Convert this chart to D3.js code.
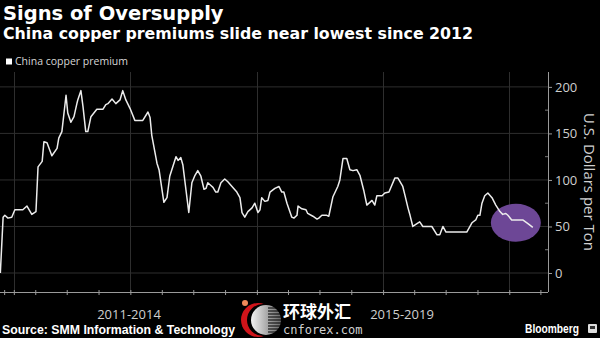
<!DOCTYPE html>
<html><head><meta charset="utf-8">
<script src="https://cdn.jsdelivr.net/npm/d3@7"></script>
<style>
html,body{margin:0;padding:0;background:#000;}
svg{display:block;}
</style></head>
<body>
<svg id="c" width="600" height="338"></svg>
<script>
// ---- data ----
const dates2015 = ['2014-12-21','2014-12-29','2015-01-03','2015-01-12','2015-01-23','2015-02-01','2015-02-24','2015-03-08','2015-03-22','2015-04-03','2015-04-09','2015-04-21','2015-04-26','2015-05-05','2015-05-19','2015-06-03','2015-06-08','2015-06-17','2015-06-29','2015-07-04','2015-07-13','2015-07-22','2015-07-31','2015-08-02','2015-08-11','2015-08-17','2015-08-25','2015-08-31','2015-09-09','2015-09-26','2015-10-14','2015-10-22','2015-10-28','2015-11-09','2015-11-20','2015-12-02','2015-12-10','2015-12-19','2015-12-31'];
const values2015 = [0,60,62,59,60,68,68,72,63,66,114,120,141,140,126,134,145,152,191,172,162,168,183,186,196,179,152,152,168,176,176,181,182,187,182,186,196,186,177];
const dates2016 = ['2016-01-14','2016-02-06','2016-02-21','2016-02-27','2016-03-03','2016-03-18','2016-03-24','2016-04-07','2016-04-16','2016-04-24','2016-05-12','2016-05-18','2016-05-26','2016-06-01','2016-06-18','2016-06-27','2016-07-06','2016-07-14','2016-07-23','2016-08-01','2016-08-07','2016-08-12','2016-08-21','2016-08-27','2016-09-04','2016-09-10','2016-09-19','2016-09-30','2016-10-09','2016-10-21','2016-11-04','2016-11-13','2016-11-19','2016-11-27','2016-12-06','2016-12-18','2016-12-26'];
const values2016 = [164,164,173,167,148,118,111,76,81,104,125,121,124,116,65,97,105,110,104,90,91,97,94,92,87,87,97,101,98,93,87,81,65,60,66,70,75];
const dates2017 = ['2017-01-04','2017-01-10','2017-01-15','2017-01-24','2017-02-02','2017-02-08','2017-02-22','2017-03-06','2017-03-14','2017-03-20','2017-03-29','2017-04-12','2017-04-18','2017-04-27','2017-04-30','2017-05-11','2017-05-23','2017-05-28','2017-06-12','2017-06-24','2017-06-29','2017-07-08','2017-07-22','2017-07-28','2017-08-09','2017-08-23','2017-08-29','2017-09-07','2017-09-18','2017-09-27','2017-10-06','2017-10-17','2017-10-26','2017-11-06','2017-11-15','2017-11-30','2017-12-08','2017-12-14','2017-12-29'];
const values2017 = [65,68,81,77,78,87,91,93,87,87,75,60,59,62,72,69,68,64,61,58,59,62,62,61,82,93,100,123,123,111,110,111,105,89,73,78,73,83,83];
const dates2018 = ['2018-01-06','2018-01-18','2018-02-04','2018-02-13','2018-02-27','2018-03-05','2018-03-14','2018-03-20','2018-03-28','2018-04-09','2018-04-17','2018-04-26','2018-05-22','2018-06-06','2018-06-14','2018-06-23','2018-07-02','2018-08-31','2018-09-15','2018-09-26','2018-10-02','2018-10-08','2018-10-14','2018-10-22','2018-10-31','2018-11-12','2018-11-23','2018-12-05','2018-12-13','2018-12-22','2018-12-28'];
const values2018 = [86,87,102,102,93,84,70,62,50,53,55,50,50,41,41,50,44,44,54,57,62,62,75,83,86,81,73,66,63,64,62];
const dates2019 = ['2019-01-08','2019-01-26','2019-02-09','2019-02-24','2019-03-10'];
const values2019 = [57,57,57,53,49];

const yTicks = [0, 50, 100, 150, 200];
const yMinorTicks = [25, 75, 125, 175];
const xTickDates = ['2015-01-01','2015-01-29','2015-04-01','2015-07-01','2015-10-01','2016-01-01','2016-04-01','2016-07-01','2016-10-01','2017-01-01','2017-04-01','2017-07-01','2017-10-01','2018-01-01','2018-04-01','2018-07-01','2018-10-01','2019-01-01','2019-04-01'];
const xGridDates = ['2015-01-29','2016-01-01','2017-01-01','2018-01-01','2019-01-01'];
const periodLabels = ['2011-2014', '2015-2019'];
const highlight = {date: '2019-01-20', value: 54};
const seriesName = 'China copper premium';
const title = 'Signs of Oversupply';
const subtitle = 'China copper premiums slide near lowest since 2012';
const yTitle = 'U.S. Dollars per Ton';
const source = 'Source: SMM Information & Technology';

// ---- build ----
const parse = d3.timeParse('%Y-%m-%d');
const allDates = [].concat(dates2015, dates2016, dates2017, dates2018, dates2019);
const allValues = [].concat(values2015, values2016, values2017, values2018, values2019);
const data = allDates.map((d, i) => ({date: parse(d), value: allValues[i]}));

const svg = d3.select('#c');
const W = 600, H = 338;
svg.append('rect').attr('width', W).attr('height', H).attr('fill', '#000');

const plot = {left: 0, right: 548, top: 72, bottom: 292};
const x = d3.scaleTime().domain([parse('2014-12-20'), parse('2019-04-23')]).range([plot.left, plot.right]);
const y = d3.scaleLinear().domain([-20.4, 216]).range([plot.bottom, plot.top]);

// gridlines
svg.append('g').selectAll('line').data(yTicks).join('line')
  .attr('x1', plot.left).attr('x2', plot.right)
  .attr('y1', d => y(d)).attr('y2', d => y(d))
  .attr('stroke', '#2e2e2e').attr('stroke-width', 1);
svg.append('g').selectAll('line').data(xGridDates).join('line')
  .attr('x1', d => Math.round(x(parse(d))) + 0.5).attr('x2', d => Math.round(x(parse(d))) + 0.5)
  .attr('y1', plot.top).attr('y2', plot.bottom)
  .attr('stroke', '#2e2e2e').attr('stroke-width', 1);

// highlight ellipse
svg.append('ellipse')
  .attr('cx', x(parse(highlight.date))).attr('cy', y(highlight.value))
  .attr('rx', 25).attr('ry', 19)
  .attr('fill', '#6d4796');

// line
const line = d3.line().x(d => x(d.date)).y(d => y(d.value));
svg.append('path').datum(data)
  .attr('d', line).attr('fill', 'none')
  .attr('stroke', '#ececec').attr('stroke-width', 1.5)
  .attr('stroke-linejoin', 'round');

// bottom axis
const xAxis = d3.axisBottom(x).tickValues(xTickDates.map(parse)).tickSize(0).tickFormat('');
const gx = svg.append('g').attr('transform', `translate(0,${plot.bottom})`).call(xAxis);
gx.select('.domain').attr('stroke', '#9a9a9a').attr('d', `M${plot.left},0.5H${plot.right}`);
gx.selectAll('.tick line').attr('y1', -2).attr('y2', 3).attr('stroke', '#9a9a9a');

// right axis
const yAxis = d3.axisRight(y).tickValues(yTicks).tickSize(4).tickPadding(3);
const gy = svg.append('g').attr('transform', `translate(${plot.right},0)`).call(yAxis);
gy.select('.domain').attr('stroke', '#9a9a9a').attr('d', `M0.5,${plot.top}V${plot.bottom}`);
gy.selectAll('.tick line').attr('stroke', '#9a9a9a');
gy.selectAll('.tick text').attr('fill', '#cfcfcf')
  .style('font-family', '"Open Sans", sans-serif').style('font-size', '13px');
svg.append('g').selectAll('line').data(yMinorTicks).join('line')
  .attr('x1', plot.right - 3).attr('x2', plot.right)
  .attr('y1', d => y(d)).attr('y2', d => y(d))
  .attr('stroke', '#777');

// y title
svg.append('text').attr('transform', `translate(584,182) rotate(90)`)
  .attr('text-anchor', 'middle')
  .attr('fill', '#cfcfcf').style('font-family', '"Open Sans", sans-serif').style('font-size', '15px')
  .text(yTitle);

// titles
svg.append('text').attr('x', 3).attr('y', 20).attr('fill', '#fff')
  .style('font-family', '"DejaVu Sans", sans-serif').style('font-weight', 'bold').style('font-size', '19.5px')
  .text(title);
svg.append('text').attr('x', 3).attr('y', 39).attr('fill', '#fff')
  .style('font-family', '"DejaVu Sans", sans-serif').style('font-weight', 'bold').style('font-size', '15.8px')
  .text(subtitle);

// legend
svg.append('rect').attr('x', 6).attr('y', 58.5).attr('width', 6).attr('height', 6).attr('fill', '#fff');
svg.append('text').attr('x', 15).attr('y', 65).attr('fill', '#d6d6d6')
  .style('font-family', '"Open Sans", sans-serif').style('font-size', '10.5px')
  .text(seriesName);

// period labels
const periodX = [129, 402];
svg.append('g').selectAll('text').data(periodLabels).join('text')
  .attr('x', (d, i) => periodX[i]).attr('y', 319).attr('text-anchor', 'middle')
  .attr('fill', '#cfcfcf').style('font-family', '"Open Sans", sans-serif').style('font-size', '13px')
  .text(d => d);

// source
svg.append('text').attr('x', 2).attr('y', 334).attr('fill', '#fff')
  .style('font-family', '"Liberation Sans", Arial, sans-serif').style('font-weight', 'bold').style('font-size', '12.3px')
  .attr('textLength', 233).attr('lengthAdjust', 'spacingAndGlyphs')
  .text(source);

// Bloomberg
svg.append('text').attr('x', 525).attr('y', 333).attr('fill', '#fff')
  .style('font-family', '"Liberation Sans", Arial, sans-serif').style('font-weight', 'bold').style('font-size', '12px')
  .attr('textLength', 54).attr('lengthAdjust', 'spacingAndGlyphs')
  .text('Bloomberg');
svg.append('rect').attr('x', 588).attr('y', 324).attr('width', 9).attr('height', 9).attr('fill', '#ddd').attr('rx', 1);
svg.append('rect').attr('x', 590).attr('y', 326).attr('width', 5).attr('height', 3).attr('fill', '#333');

// watermark logo
const logo = svg.append('g');
logo.append('circle').attr('cx', 258).attr('cy', 320).attr('r', 17).attr('fill', '#d0141a');
logo.append('circle').attr('cx', 263).attr('cy', 320).attr('r', 16).attr('fill', '#000');
const grad = svg.append('defs').append('linearGradient').attr('id', 'g1').attr('x1', 0).attr('x2', 1);
grad.append('stop').attr('offset', 0).attr('stop-color', '#f2f2f2');
grad.append('stop').attr('offset', 1).attr('stop-color', '#6a6a6a');
logo.append('circle').attr('cx', 266).attr('cy', 320).attr('r', 15).attr('fill', 'url(#g1)');
for (let k = 0; k < 9; k++) {
  logo.append('line').attr('x1', 268).attr('x2', 282).attr('y1', 308 + k * 3).attr('y2', 308 + k * 3)
    .attr('stroke', '#000').attr('stroke-width', 1);
}
logo.append('circle').attr('cx', 245).attr('cy', 303).attr('r', 3).attr('fill', '#f08a5a');
svg.append('text').attr('x', 283).attr('y', 318).attr('fill', '#fff')
  .style('font-family', '"Noto Sans CJK SC", sans-serif').style('font-size', '17px').style('font-weight', 'bold')
  .text('环球外汇');
svg.append('text').attr('x', 283).attr('y', 334).attr('fill', '#d0d0d0')
  .style('font-family', '"DejaVu Sans Mono", monospace').style('font-size', '12px')
  .text('cnforex.com');
</script>
</body></html>
